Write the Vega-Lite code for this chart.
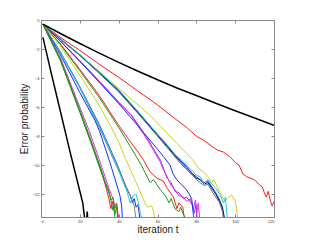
{
"$schema":"https://vega.github.io/schema/vega-lite/v6.json",
"autosize":"none",
"padding":{"left":41,"top":20,"right":50,"bottom":33},
"width":233,"height":197,
"background":"white",
"config":{"view":{"stroke":null},"font":"Liberation Sans"},
"data":{"values":[
{"s":"k1","x":1,"y":-0.28},{"s":"k1","x":10,"y":-0.93},{"s":"k1","x":20,"y":-1.62},{"s":"k1","x":30,"y":-2.28},{"s":"k1","x":40,"y":-2.92},{"s":"k1","x":50,"y":-3.53},{"s":"k1","x":60,"y":-4.12},{"s":"k1","x":70,"y":-4.68},{"s":"k1","x":80,"y":-5.2},{"s":"k1","x":90,"y":-5.73},{"s":"k1","x":100,"y":-6.25},{"s":"k1","x":110,"y":-6.75},{"s":"k1","x":120,"y":-7.26},
{"s":"k2","x":1,"y":-1.2},{"s":"k2","x":5,"y":-3.5},{"s":"k2","x":10,"y":-6.3},{"s":"k2","x":15,"y":-9.1},{"s":"k2","x":20,"y":-11.8},{"s":"k2","x":21.5,"y":-12.6},{"s":"k2","x":22.5,"y":-13.7},{"s":"k2","x":23.3,"y":-14.2},{"s":"k2","x":23.8,"y":-13.2},{"s":"k2","x":24.3,"y":-14.2},
{"s":"r1","x":1,"y":-0.3},{"s":"r1","x":10,"y":-1.2},{"s":"r1","x":20,"y":-2.1},{"s":"r1","x":30,"y":-3.05},{"s":"r1","x":40,"y":-3.95},{"s":"r1","x":50,"y":-4.9},{"s":"r1","x":60,"y":-5.85},{"s":"r1","x":70,"y":-6.9},{"s":"r1","x":75,"y":-7.4},{"s":"r1","x":80,"y":-8.0},{"s":"r1","x":84,"y":-8.3},{"s":"r1","x":88,"y":-8.7},{"s":"r1","x":91,"y":-8.97},{"s":"r1","x":94,"y":-9.1},{"s":"r1","x":97,"y":-9.4},{"s":"r1","x":100,"y":-9.8},{"s":"r1","x":102,"y":-10.0},{"s":"r1","x":104,"y":-10.6},{"s":"r1","x":106,"y":-10.8},{"s":"r1","x":108,"y":-10.9},{"s":"r1","x":110,"y":-11.0},{"s":"r1","x":112,"y":-11.3},{"s":"r1","x":114,"y":-11.5},{"s":"r1","x":115,"y":-11.9},{"s":"r1","x":116,"y":-12.2},{"s":"r1","x":117,"y":-11.8},{"s":"r1","x":118,"y":-12.4},{"s":"r1","x":119,"y":-12.8},{"s":"r1","x":120,"y":-12.5},
{"s":"y1","x":1,"y":-0.3},{"s":"y1","x":10,"y":-1.3},{"s":"y1","x":20,"y":-2.4},{"s":"y1","x":30,"y":-3.55},{"s":"y1","x":40,"y":-4.7},{"s":"y1","x":50,"y":-5.85},{"s":"y1","x":56,"y":-6.55},{"s":"y1","x":60,"y":-7.1},{"s":"y1","x":65,"y":-7.8},{"s":"y1","x":70,"y":-8.5},{"s":"y1","x":75,"y":-9.2},{"s":"y1","x":78,"y":-9.6},{"s":"y1","x":81,"y":-10.2},{"s":"y1","x":84,"y":-10.5},{"s":"y1","x":86,"y":-10.8},{"s":"y1","x":88,"y":-11.2},{"s":"y1","x":89,"y":-11.0},{"s":"y1","x":90.4,"y":-11.4},{"s":"y1","x":93,"y":-12.1},{"s":"y1","x":94.7,"y":-12.5},{"s":"y1","x":96.4,"y":-12.2},{"s":"y1","x":98.2,"y":-12.07},{"s":"y1","x":99.9,"y":-12.4},{"s":"y1","x":100.7,"y":-13.0},{"s":"y1","x":101.5,"y":-13.8},
{"s":"b1","x":1,"y":-0.3},{"s":"b1","x":10,"y":-1.3},{"s":"b1","x":20,"y":-2.4},{"s":"b1","x":30,"y":-3.6},{"s":"b1","x":40,"y":-4.85},{"s":"b1","x":50,"y":-6.35},{"s":"b1","x":60,"y":-7.9},{"s":"b1","x":65,"y":-8.65},{"s":"b1","x":70,"y":-9.45},{"s":"b1","x":72,"y":-9.7},{"s":"b1","x":75,"y":-10.1},{"s":"b1","x":78,"y":-10.6},{"s":"b1","x":80,"y":-10.8},{"s":"b1","x":82,"y":-11.0},{"s":"b1","x":84,"y":-11.2},{"s":"b1","x":86,"y":-11.1},{"s":"b1","x":88,"y":-11.5},{"s":"b1","x":90,"y":-11.9},{"s":"b1","x":92,"y":-12.4},{"s":"b1","x":93.5,"y":-12.9},{"s":"b1","x":94.5,"y":-13.8},
{"s":"n1","x":1,"y":-0.3},{"s":"n1","x":10,"y":-1.32},{"s":"n1","x":20,"y":-2.43},{"s":"n1","x":30,"y":-3.63},{"s":"n1","x":40,"y":-4.9},{"s":"n1","x":50,"y":-6.4},{"s":"n1","x":60,"y":-7.95},{"s":"n1","x":65,"y":-8.7},{"s":"n1","x":70,"y":-9.5},{"s":"n1","x":72,"y":-9.8},{"s":"n1","x":75,"y":-10.2},{"s":"n1","x":78,"y":-10.6},{"s":"n1","x":80,"y":-10.9},{"s":"n1","x":82,"y":-11.0},{"s":"n1","x":84,"y":-11.3},{"s":"n1","x":86,"y":-11.2},{"s":"n1","x":88,"y":-11.6},{"s":"n1","x":90,"y":-12.0},{"s":"n1","x":92,"y":-12.5},{"s":"n1","x":93.5,"y":-13.0},{"s":"n1","x":94.7,"y":-13.8},
{"s":"c1","x":1,"y":-0.3},{"s":"c1","x":10,"y":-1.28},{"s":"c1","x":20,"y":-2.38},{"s":"c1","x":30,"y":-3.57},{"s":"c1","x":40,"y":-4.8},{"s":"c1","x":50,"y":-6.3},{"s":"c1","x":60,"y":-7.85},{"s":"c1","x":65,"y":-8.6},{"s":"c1","x":70,"y":-9.4},{"s":"c1","x":72,"y":-9.6},{"s":"c1","x":75,"y":-10.0},{"s":"c1","x":78,"y":-10.4},{"s":"c1","x":80,"y":-10.7},{"s":"c1","x":82,"y":-10.8},{"s":"c1","x":84,"y":-11.3},{"s":"c1","x":86,"y":-11.0},{"s":"c1","x":88,"y":-11.3},{"s":"c1","x":90,"y":-11.6},{"s":"c1","x":92,"y":-12.0},{"s":"c1","x":94,"y":-12.6},{"s":"c1","x":95,"y":-12.2},{"s":"c1","x":96,"y":-13.8},
{"s":"gr1","x":1,"y":-0.3},{"s":"gr1","x":10,"y":-1.33},{"s":"gr1","x":20,"y":-2.45},{"s":"gr1","x":30,"y":-3.68},{"s":"gr1","x":40,"y":-4.95},{"s":"gr1","x":50,"y":-6.45},{"s":"gr1","x":60,"y":-8.0},{"s":"gr1","x":65,"y":-8.8},{"s":"gr1","x":70,"y":-9.6},{"s":"gr1","x":72,"y":-9.9},{"s":"gr1","x":75,"y":-10.3},{"s":"gr1","x":78,"y":-10.7},{"s":"gr1","x":80,"y":-11.0},{"s":"gr1","x":82,"y":-11.2},{"s":"gr1","x":84,"y":-11.4},{"s":"gr1","x":86,"y":-11.3},{"s":"gr1","x":88,"y":-11.8},{"s":"gr1","x":90,"y":-12.2},{"s":"gr1","x":92,"y":-12.6},{"s":"gr1","x":93.5,"y":-13.2},{"s":"gr1","x":94,"y":-13.8},
{"s":"p1","x":1,"y":-0.3},{"s":"p1","x":10,"y":-1.45},{"s":"p1","x":20,"y":-2.8},{"s":"p1","x":30,"y":-4.2},{"s":"p1","x":40,"y":-5.65},{"s":"p1","x":46.6,"y":-6.55},{"s":"p1","x":50,"y":-7.2},{"s":"p1","x":55,"y":-8.2},{"s":"p1","x":58,"y":-8.9},{"s":"p1","x":61.5,"y":-9.66},{"s":"p1","x":63,"y":-10.2},{"s":"p1","x":65,"y":-10.9},{"s":"p1","x":67,"y":-11.2},{"s":"p1","x":69,"y":-11.8},{"s":"p1","x":71,"y":-11.9},{"s":"p1","x":73.4,"y":-12.3},{"s":"p1","x":75,"y":-12.2},{"s":"p1","x":77.7,"y":-12.65},{"s":"p1","x":79,"y":-13.3},{"s":"p1","x":79.8,"y":-12.7},{"s":"p1","x":80.5,"y":-13.8},
{"s":"m2","x":1,"y":-0.3},{"s":"m2","x":10,"y":-1.47},{"s":"m2","x":20,"y":-2.85},{"s":"m2","x":30,"y":-4.25},{"s":"m2","x":40,"y":-5.7},{"s":"m2","x":46.6,"y":-6.6},{"s":"m2","x":50,"y":-7.3},{"s":"m2","x":55,"y":-8.3},{"s":"m2","x":58,"y":-9.0},{"s":"m2","x":61.5,"y":-9.8},{"s":"m2","x":63,"y":-10.3},{"s":"m2","x":65,"y":-10.8},{"s":"m2","x":67,"y":-11.4},{"s":"m2","x":69,"y":-11.7},{"s":"m2","x":71,"y":-12.1},{"s":"m2","x":73.4,"y":-12.2},{"s":"m2","x":75,"y":-12.5},{"s":"m2","x":77,"y":-12.3},{"s":"m2","x":78.5,"y":-13.0},{"s":"m2","x":79.5,"y":-12.4},{"s":"m2","x":80.3,"y":-13.3},{"s":"m2","x":81,"y":-12.6},{"s":"m2","x":81.8,"y":-13.8},
{"s":"b4","x":1,"y":-0.3},{"s":"b4","x":10,"y":-1.45},{"s":"b4","x":20,"y":-2.85},{"s":"b4","x":30,"y":-4.3},{"s":"b4","x":40,"y":-5.75},{"s":"b4","x":50,"y":-7.3},{"s":"b4","x":55,"y":-8.1},{"s":"b4","x":60,"y":-8.9},{"s":"b4","x":63,"y":-9.4},{"s":"b4","x":66.5,"y":-10.0},{"s":"b4","x":68,"y":-10.6},{"s":"b4","x":69.9,"y":-11.0},{"s":"b4","x":72,"y":-11.3},{"s":"b4","x":75,"y":-11.7},{"s":"b4","x":77.6,"y":-12.3},{"s":"b4","x":78.5,"y":-13.45},{"s":"b4","x":79,"y":-13.8},
{"s":"r2","x":1,"y":-0.3},{"s":"r2","x":10,"y":-1.65},{"s":"r2","x":20,"y":-3.4},{"s":"r2","x":30,"y":-5.2},{"s":"r2","x":40,"y":-7.25},{"s":"r2","x":45,"y":-8.2},{"s":"r2","x":50,"y":-9.1},{"s":"r2","x":53,"y":-9.7},{"s":"r2","x":56.2,"y":-10.46},{"s":"r2","x":59.7,"y":-10.9},{"s":"r2","x":63,"y":-11.1},{"s":"r2","x":65,"y":-11.6},{"s":"r2","x":68.2,"y":-12.2},{"s":"r2","x":70,"y":-13.0},{"s":"r2","x":71,"y":-12.6},{"s":"r2","x":73,"y":-12.9},{"s":"r2","x":74,"y":-13.8},
{"s":"g2","x":1,"y":-0.3},{"s":"g2","x":10,"y":-1.7},{"s":"g2","x":20,"y":-3.5},{"s":"g2","x":30,"y":-5.35},{"s":"g2","x":40,"y":-7.4},{"s":"g2","x":46.6,"y":-8.85},{"s":"g2","x":51.7,"y":-10.0},{"s":"g2","x":56.2,"y":-11.2},{"s":"g2","x":58,"y":-11.0},{"s":"g2","x":61.5,"y":-11.7},{"s":"g2","x":64,"y":-12.1},{"s":"g2","x":66,"y":-12.6},{"s":"g2","x":67,"y":-12.3},{"s":"g2","x":69,"y":-13.0},{"s":"g2","x":71,"y":-13.2},{"s":"g2","x":72,"y":-12.9},{"s":"g2","x":73,"y":-13.3},{"s":"g2","x":75,"y":-13.8},
{"s":"y2","x":1,"y":-0.3},{"s":"y2","x":10,"y":-1.8},{"s":"y2","x":20,"y":-3.8},{"s":"y2","x":30,"y":-5.9},{"s":"y2","x":35,"y":-7.1},{"s":"y2","x":40,"y":-8.4},{"s":"y2","x":43,"y":-9.4},{"s":"y2","x":46.6,"y":-10.46},{"s":"y2","x":49,"y":-11.2},{"s":"y2","x":51,"y":-11.8},{"s":"y2","x":53.5,"y":-12.6},{"s":"y2","x":55,"y":-12.9},{"s":"y2","x":57,"y":-12.8},{"s":"y2","x":58,"y":-13.2},{"s":"y2","x":58.7,"y":-13.8},
{"s":"b2","x":1,"y":-0.3},{"s":"b2","x":10,"y":-2.2},{"s":"b2","x":20,"y":-4.6},{"s":"b2","x":30,"y":-7.2},{"s":"b2","x":35,"y":-8.7},{"s":"b2","x":39.7,"y":-10.1},{"s":"b2","x":42,"y":-10.9},{"s":"b2","x":44,"y":-11.6},{"s":"b2","x":46,"y":-12.1},{"s":"b2","x":47,"y":-12.6},{"s":"b2","x":48,"y":-12.3},{"s":"b2","x":49,"y":-12.9},{"s":"b2","x":50,"y":-12.7},{"s":"b2","x":51,"y":-13.8},
{"s":"gr2","x":1,"y":-0.3},{"s":"gr2","x":10,"y":-2.25},{"s":"gr2","x":20,"y":-4.7},{"s":"gr2","x":30,"y":-7.4},{"s":"gr2","x":35,"y":-8.9},{"s":"gr2","x":40,"y":-10.4},{"s":"gr2","x":43,"y":-11.2},{"s":"gr2","x":45,"y":-11.8},{"s":"gr2","x":47,"y":-12.4},{"s":"gr2","x":48,"y":-12.8},{"s":"gr2","x":49,"y":-13.8},
{"s":"c2","x":1,"y":-0.3},{"s":"c2","x":10,"y":-2.2},{"s":"c2","x":20,"y":-4.65},{"s":"c2","x":30,"y":-7.3},{"s":"c2","x":35,"y":-8.8},{"s":"c2","x":40,"y":-10.3},{"s":"c2","x":42,"y":-11.1},{"s":"c2","x":44,"y":-11.7},{"s":"c2","x":46,"y":-12.6},{"s":"c2","x":47.5,"y":-12.1},{"s":"c2","x":49,"y":-12.0},{"s":"c2","x":50,"y":-12.5},{"s":"c2","x":51,"y":-13.2},{"s":"c2","x":52,"y":-13.8},
{"s":"b3","x":1,"y":-0.3},{"s":"b3","x":10,"y":-2.4},{"s":"b3","x":20,"y":-5.0},{"s":"b3","x":27.7,"y":-6.9},{"s":"b3","x":30,"y":-7.6},{"s":"b3","x":35,"y":-9.6},{"s":"b3","x":38,"y":-10.9},{"s":"b3","x":40.6,"y":-12.07},{"s":"b3","x":41.5,"y":-12.8},{"s":"b3","x":42,"y":-13.8},
{"s":"m1","x":1,"y":-0.3},{"s":"m1","x":10,"y":-2.6},{"s":"m1","x":20,"y":-6.0},{"s":"m1","x":25,"y":-7.7},{"s":"m1","x":30,"y":-9.6},{"s":"m1","x":33,"y":-10.8},{"s":"m1","x":35,"y":-11.6},{"s":"m1","x":37,"y":-12.3},{"s":"m1","x":38,"y":-12.8},{"s":"m1","x":39,"y":-12.6},{"s":"m1","x":40,"y":-13.8},
{"s":"r3","x":1,"y":-0.3},{"s":"r3","x":10,"y":-2.75},{"s":"r3","x":20,"y":-6.3},{"s":"r3","x":25,"y":-8.1},{"s":"r3","x":30,"y":-10.0},{"s":"r3","x":33,"y":-11.3},{"s":"r3","x":35,"y":-12.3},{"s":"r3","x":36,"y":-13.0},{"s":"r3","x":37,"y":-12.5},{"s":"r3","x":38,"y":-13.4},{"s":"r3","x":39,"y":-12.9},{"s":"r3","x":40,"y":-13.8},
{"s":"g1","x":1,"y":-0.3},{"s":"g1","x":10,"y":-2.8},{"s":"g1","x":20,"y":-6.35},{"s":"g1","x":25,"y":-8.2},{"s":"g1","x":30,"y":-10.1},{"s":"g1","x":33,"y":-11.2},{"s":"g1","x":35.4,"y":-12.07},{"s":"g1","x":36.5,"y":-12.7},{"s":"g1","x":37,"y":-13.1},{"s":"g1","x":37.5,"y":-12.8},{"s":"g1","x":38.2,"y":-13.8},
{"s":"g3","x":1,"y":-0.3},{"s":"g3","x":10,"y":-2.7},{"s":"g3","x":20,"y":-6.2},{"s":"g3","x":25,"y":-8.0},{"s":"g3","x":30,"y":-9.9},{"s":"g3","x":33,"y":-11.1},{"s":"g3","x":35,"y":-11.8},{"s":"g3","x":36,"y":-12.4},{"s":"g3","x":37,"y":-12.2},{"s":"g3","x":38,"y":-13.0},{"s":"g3","x":39,"y":-12.7},{"s":"g3","x":39.5,"y":-13.8}
]},
"encoding":{
"x":{"field":"x","type":"quantitative","scale":{"domain":[0,120],"nice":false,"zero":false}},
"y":{"field":"y","type":"quantitative","scale":{"domain":[-13.57,0],"nice":false,"zero":false}},
"color":{"field":"s","type":"nominal","legend":null,"scale":{
"domain":["k1","k2","r1","y1","b1","n1","c1","gr1","p1","m2","b4","r2","g2","y2","b2","gr2","c2","b3","m1","r3","g1","g3"],
"range":["#000000","#000000","#ff1a1a","#d0d020","#1030ff","#101070","#20d0d0","#707070","#9020f0","#e030e0","#1030ff","#ff1a1a","#1a9a1a","#d0d020","#1030ff","#808080","#20d0d0","#1030ff","#e030e0","#ff1a1a","#1a9a1a","#1a9a1a"]}},
"detail":{"field":"s"}
},
"layer":[
{"transform":[{"filter":"datum.s!='k1' && datum.s!='k2'"}],
"mark":{"type":"line","strokeWidth":1,"clip":true},
"encoding":{
"x":{"field":"x","type":"quantitative","axis":{"orient":"bottom","values":[0,20,40,60,80,100,120],"grid":false,"domainColor":"#888","tickColor":"#888","tickSize":-3,"labelPadding":5,"labelFontSize":4,"labelColor":"#333","title":"iteration t","titleFontSize":10,"titleFontWeight":"normal","titleColor":"#222","titlePadding":1}},
"y":{"field":"y","type":"quantitative","axis":{"orient":"left","values":[0,-2,-4,-6,-8,-10,-12],"grid":false,"domainColor":"#888","tickColor":"#888","tickSize":-3,"labelPadding":5,"labelFontSize":4,"labelColor":"#333","title":"Error probability","titleFontSize":10,"titleFontWeight":"normal","titleColor":"#222","titlePadding":3}}
}},
{"transform":[{"filter":"datum.s=='k1' || datum.s=='k2'"}],
"mark":{"type":"line","strokeWidth":1.5,"clip":true},
"encoding":{
"x":{"field":"x","type":"quantitative","axis":{"orient":"top","values":[0,20,40,60,80,100,120],"grid":false,"labels":false,"title":null,"domainColor":"#888","tickColor":"#888","tickSize":-3}},
"y":{"field":"y","type":"quantitative","axis":{"orient":"right","values":[0,-2,-4,-6,-8,-10,-12],"grid":false,"labels":false,"title":null,"domainColor":"#888","tickColor":"#888","tickSize":-3}}
}}
],
"resolve":{"axis":{"x":"independent","y":"independent"}}
}
